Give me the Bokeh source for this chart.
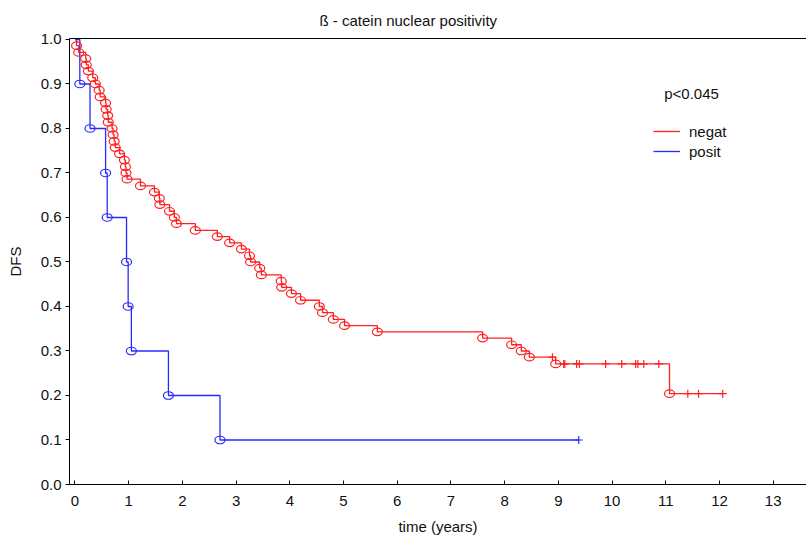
from bokeh.plotting import figure
from bokeh.models import (Range1d, FixedTicker, PrintfTickFormatter, Legend, LegendItem,
                          Label, LinearAxis)
from bokeh.embed import file_html
from bokeh.resources import INLINE

# ---------------- data ----------------
neg_event_t = [0.03, 0.07, 0.20, 0.21, 0.25, 0.33, 0.38, 0.45, 0.47, 0.57,
               0.58, 0.61, 0.62, 0.69, 0.71, 0.73, 0.75, 0.83, 0.92, 0.94,
               0.95, 0.97, 1.22, 1.48, 1.57, 1.58, 1.76, 1.85, 1.89, 2.24,
               2.65, 2.88, 3.10, 3.25, 3.27, 3.44, 3.47, 3.84, 3.85, 4.03,
               4.20, 4.55, 4.61, 4.81, 5.02, 5.63, 7.59, 8.13, 8.31, 8.46,
               8.95, 11.07]
neg_event_s = [0.986, 0.971, 0.957, 0.943, 0.929, 0.914, 0.900, 0.886, 0.871, 0.857,
               0.843, 0.829, 0.814, 0.800, 0.786, 0.771, 0.757, 0.743, 0.729, 0.714,
               0.700, 0.686, 0.671, 0.657, 0.643, 0.629, 0.614, 0.600, 0.586, 0.571,
               0.557, 0.543, 0.529, 0.514, 0.500, 0.486, 0.471, 0.457, 0.443, 0.429,
               0.414, 0.400, 0.386, 0.371, 0.357, 0.343, 0.329, 0.314, 0.300, 0.286,
               0.271, 0.204]
neg_cens_t = [8.89, 9.10, 9.12, 9.34, 9.39, 9.88, 10.18, 10.44, 10.48, 10.59, 10.87,
              11.41, 11.61, 12.06]
neg_cens_s = [0.286, 0.271, 0.271, 0.271, 0.271, 0.271, 0.271, 0.271, 0.271, 0.271, 0.271,
              0.204, 0.204, 0.204]

pos_event_t = [0.09, 0.28, 0.57, 0.60, 0.96, 0.99, 1.05, 1.74, 2.70]
pos_event_s = [0.9, 0.8, 0.7, 0.6, 0.5, 0.4, 0.3, 0.2, 0.1]
pos_cens_t = [9.38]
pos_cens_s = [0.1]

x_ticks = list(range(0, 14))
y_ticks = [0.0, 0.1, 0.2, 0.3, 0.4, 0.5, 0.6, 0.7, 0.8, 0.9, 1.0]

series_names = ["negat", "posit"]
title_text = "ß - catein nuclear positivity"
x_title = "time (years)"
y_title = "DFS"
p_text = "p<0.045"

RED = "#ff2020"
BLUE = "#2a2aff"
FONT = "Liberation Sans"
TXT = "#111111"
FS = "15px"

# ---------------- figure ----------------
p = figure(width=806, height=538, output_backend="svg", toolbar_location=None,
           x_range=Range1d(-0.102, 13.62), y_range=Range1d(0.0, 1.0022),
           min_border_left=69, min_border_right=0, min_border_top=38, min_border_bottom=54,
           title=title_text)
p.outline_line_color = None
p.xgrid.visible = False
p.ygrid.visible = False
p.background_fill_color = "white"

p.title.align = "left"
p.title.offset = 250
p.title.text_font = FONT
p.title.text_font_size = FS
p.title.text_font_style = "normal"
p.title.text_color = TXT
p.title.standoff = 19

# axes
xa = p.xaxis[0]
xa.ticker = FixedTicker(ticks=x_ticks)
xa.major_tick_in = 4
xa.major_tick_out = 0
xa.minor_tick_line_color = None
xa.major_label_standoff = 11
xa.major_label_text_font = FONT
xa.major_label_text_font_size = FS
xa.major_label_text_color = TXT
xa.axis_line_color = "black"
xa.axis_label = x_title
xa.axis_label_standoff = 9
xa.axis_label_text_font = FONT
xa.axis_label_text_font_size = FS
xa.axis_label_text_font_style = "normal"
xa.axis_label_text_color = TXT

ya = p.yaxis[0]
ya.ticker = FixedTicker(ticks=y_ticks)
ya.formatter = PrintfTickFormatter(format="%.1f")
ya.major_tick_in = 0
ya.major_tick_out = 4
ya.minor_tick_line_color = None
ya.major_label_standoff = 4
ya.major_label_text_font = FONT
ya.major_label_text_font_size = FS
ya.major_label_text_color = TXT
ya.axis_line_color = "black"
ya.axis_label = y_title
ya.axis_label_standoff = 14
ya.axis_label_text_font = FONT
ya.axis_label_text_font_size = FS
ya.axis_label_text_font_style = "normal"
ya.axis_label_text_color = TXT

top_axis = LinearAxis(ticker=FixedTicker(ticks=[]), major_tick_line_color=None,
                      minor_tick_line_color=None, axis_line_color="black",
                      major_label_standoff=0)
p.add_layout(top_axis, "above")

# step curves
def step_xy(ts, ss, end_t):
    xs = [0.0] + list(ts) + [end_t]
    ys = [1.0] + list(ss) + [ss[-1]]
    return xs, ys

nx, ny = step_xy(neg_event_t, neg_event_s, max(neg_cens_t))
px, py = step_xy(pos_event_t, pos_event_s, max(pos_cens_t))

r_neg = p.step(nx, ny, mode="after", line_color=RED, line_width=1.3)
r_pos = p.step(px, py, mode="after", line_color=BLUE, line_width=1.3)

# event markers (open circles)
p.ellipse(neg_event_t, neg_event_s, width=10, height=7.5, width_units="screen",
          height_units="screen", fill_color=None, line_color=RED, line_width=1.2)
p.ellipse(pos_event_t, pos_event_s, width=10, height=7.5, width_units="screen",
          height_units="screen", fill_color=None, line_color=BLUE, line_width=1.2)

# censor marks
p.scatter(neg_cens_t, neg_cens_s, marker="cross", size=8, line_color=RED, line_width=1.2)
p.scatter(pos_cens_t, pos_cens_s, marker="cross", size=8, line_color=BLUE, line_width=1.2)

# legend
legend = Legend(items=[LegendItem(label=series_names[0], renderers=[r_neg]),
                       LegendItem(label=series_names[1], renderers=[r_pos])],
                location=(584, 323), border_line_color=None, background_fill_alpha=0,
                label_text_font=FONT, label_text_font_size=FS, label_text_color=TXT,
                glyph_width=27, glyph_height=20, label_height=20, label_standoff=9,
                padding=0, margin=0, spacing=0)
p.add_layout(legend)

p.add_layout(Label(x=622, y=391, x_units="screen", y_units="screen", text=p_text,
                   text_font=FONT, text_font_size=FS, text_align="center",
                   text_baseline="middle", text_color=TXT))

open("out.html", "w").write(file_html(p, INLINE))
